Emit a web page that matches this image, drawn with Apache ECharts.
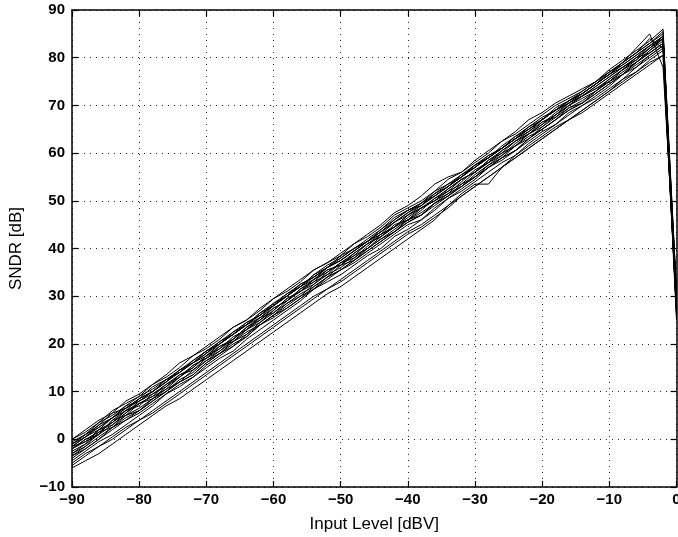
<!DOCTYPE html>
<html>
<head>
<meta charset="utf-8">
<script src="https://cdn.jsdelivr.net/npm/echarts@6/dist/echarts.min.js"></script>
<style>html,body{margin:0;padding:0;background:#fff}#c{width:678px;height:537px}</style>
</head>
<body>
<div id="c"></div>
<script>
const xs = [-90,-88,-86,-84,-82,-80,-78,-76,-74,-72,-70,-68,-66,-64,-62,-60,-58,-56,-54,-52,-50,-48,-46,-44,-42,-40,-38,-36,-34,-32,-30,-28,-26,-24,-22,-20,-18,-16,-14,-12,-10,-8,-6,-4,-2,0];
const s1 = [0,1.5,3.5,6,7.5,9,11.5,13,15,17.5,19,21,23.5,25,27,29.5,31,33,35.5,37,38.5,41,42.5,44.5,47,48.5,50,52,54.5,56,58,60,62.5,64,66,68,70,71.5,73,75,77,79,81,83,85.5,27];
const s2 = [-1.5,0.5,2,4.5,6.5,8.5,10,12,14.5,16,18,20,22,24.5,26,28,30,32.5,34,36,37.5,39.5,41.5,43,45.5,47.5,49,51,53,55,57,59.5,61,63,65,67,69,70.5,72.5,74.5,76.5,78,80,82.5,84.5,30];
const s3 = [-2.5,-1,2,3,5.5,7.5,9,10.5,13,15.5,17,18.5,21,23,24.5,27,29.5,31,32.5,35,37,38,40.5,43,44.5,46,48.5,50,51.5,54,56.5,58,59.5,62,64,65.5,68,70,71.5,73,75.5,77.5,79,81.5,84,26];
const s4 = [-2,0,1,4,6,7,9.5,11.5,13.5,15,17.5,19.5,21,23.5,25.5,27.5,29,31.5,33.5,35,37,39,41,43,44.5,47,48.5,50.5,52.5,54.5,56,58.5,60.5,62.5,64.5,66.5,68,70.5,72,74,76,78,80,82,84.5,29];
const s5 = [-3,-1,1,3,5,6.5,8.5,10.5,12,14.5,16.5,18.5,20.5,22,24.5,26.5,28.5,30,32.5,34.5,36,38,40,42,44,46,47.5,49.5,51.5,53,55.5,57.5,59.5,61.5,63,65.5,67.5,69.5,71,73,75,77,79,81,83,28];
const s6 = [-0.5,1,3.5,5,7,9,10.5,12.5,14.5,16.5,18.5,20.5,22.5,24,26.5,28.5,30.5,32,34.5,36.5,38,40,42,44,46,48,49.5,51.5,53.5,55.5,57.5,59,61.5,63.5,65.5,67.5,69,71,73,75,77,79,81,83,85,31];
const s7 = [-3.5,-1.5,0.5,2.5,4,6,8,10,12,13.5,16,18,20,21.5,24,26,28,30,31.5,34,35.5,37.5,39.5,41.5,43.5,45.5,47,49,51,53,55,57,59,60.5,63,65,67,69,70.5,72.5,74.5,76.5,78.5,80.5,82.5,25];
const s8 = [-1.5,-0.5,1,4,5,7.5,8.5,11,13.5,14.5,17,19.5,20.5,23,25.5,26.5,29,31.5,33,34.5,37,38.5,40,42.5,45,46,48,50.5,52,53.5,56,58.5,60,61.5,64,66.5,67.5,70,72,73.5,75,77.5,80,81,83,29];
const s9 = [-1,1,2.5,4.5,6.5,8,10,12,14,16,17.5,20,22,24,25.5,28,30,32,33.5,36,37.5,39.5,41.5,43.5,45.5,47,49,51,53,55,57,59,61,63,64.5,67,69,71,72.5,74.5,76.5,79,82,85,78,30];
const s10 = [-5.5,-3.5,-1.5,0.5,2.5,4,6,8,10,12,14,16,18,20,22,24,26,28,30,31.5,33.5,35.5,37.5,39.5,41.5,43.5,45,47,49,51,53,55,57,59,61,63,65,67,68.5,70.5,72.5,74.5,76.5,78.5,80.5,27];
const s11 = [-6,-4.5,-3,-1,1,3,5,7,8.5,10.5,12.5,14.5,16.5,18.5,20.5,22.5,24.5,26.5,28.5,30.5,32,34,36,38,40,42,44,46,49,51.5,53.5,53.5,57,59.5,61.5,63.5,65.5,67,69,71,73,75,77,79,80.5,27];
const s12 = [-4.5,-2.5,-0.5,1,3,5,7,9.5,11,13,15,17,18.5,21,23,25,27,29,31.5,33,34.5,36.5,38.5,40,42.5,44,46,48,50.5,52,54,56,58,59.5,62,64,66,68,70,71.5,73.5,75.5,77,79.5,81.5,28];
const s13 = [-5,-3,-1.5,0,2,4,5.5,7.5,9.5,11.5,13.5,15.5,17.5,19.5,21.5,23.5,25.5,27.5,29.5,31.5,33,35,37,39,41,43,44.5,46.5,48.5,51,53,55,57,59,61,63,65,67,69,71,73,75.5,78,80,82,29];
const s14 = [-2,-0.5,2,3.5,5.5,8,9.5,11,13,15.5,17,19,21.5,23,25,27.5,29,31,33.5,35.5,36.5,39,41,42.5,44.5,47,48.5,50,52.5,54.5,56,58,60.5,62.5,64,66,68.5,70.5,72,74,76,78,79.5,82,84,27];
const s15 = [-1,1,3,5.5,6.5,8.5,11,12.5,14,16.5,18.5,20,22.5,24.5,26,28,30.5,32.5,34,36,38.5,40,41.5,44,46.5,48,49.5,52,53.5,55,57.5,59.5,61,63,65.5,67,69,71,72.5,74.5,77,78.5,80.5,82.5,84.5,30];
const s16 = [-4,-2,0,2,4,5.5,7.5,9.5,11.5,13,15.5,17.5,19.5,21.5,24,25.5,27.5,29.5,31.5,33.5,35.5,37,39,41,43,45,46,48.5,50.5,52.5,54.5,57,58.5,60.5,62.5,64.5,66,68.5,70,72,74,76.5,78,80.5,82.5,28];
const s17 = [0,2,4,5.5,8,9.5,11.5,13.5,16,17.5,19.5,21.5,23.5,25,27.5,29.5,31.5,33.5,35.5,37,39,41,43,45,47.5,49,51,53.5,55,56,58.5,60.5,62.5,64.5,67,68.5,70.5,72,73.5,75,77.5,79.5,81.5,83.5,86,31];
const s18 = [-3,-1.5,1.5,2.5,5,6,8.5,10,12.5,14,16.5,18,20.5,22.5,24,26,28.5,30.5,32,34,36.5,37.5,40,42,43.5,46,47,49.5,51,53.5,55,57.5,59,61.5,63.5,65,67,69.5,70.5,73,75,76.5,79,81,83,26];
const s19 = [-3.5,-2,0,2.5,4.5,6,8,10,12,13.5,16,18,19.5,22,24,26,27.5,29.5,32,34,35.5,37.5,39.5,41.5,43.5,45.5,47,49.5,51,53,55,57,59,60.5,63,65,67,69,70.5,72.5,74.5,76.5,79,81.5,83.5,30];
const s20 = [-1.5,0.5,2.5,4.5,7,8,10,12.5,14,16,18.5,20,22,24,26.5,28,30,32,34.5,36,37.5,39.5,41.5,43.5,45.5,47.5,49.5,51,53,55.5,57,59,61,63,65,67,69,70.5,72.5,74.5,76.5,78.5,80.5,82.5,84,29];
const s21 = [-2,0,1.5,3.5,6,7.5,9,11.5,13,15,17.5,19,21,23.5,25,27,29.5,31,33,35.5,36.5,38.5,41,42.5,44.5,46.5,48.5,50,52,54.5,56,58,60,62.5,64,66,68,70,72,73.5,75.5,77.5,79.5,82,84,28];
const s22 = [-1,0.5,3,4.5,6,8.5,10,12,14.5,16,18,20.5,22,24,26,28.5,30,32,34,36,38,40,41.5,43.5,46,48,49,51.5,53,55,57.5,59,61,63.5,65,67,69.5,71,72.5,74.5,76.5,79,81,84,82,27];
const allSeries = [s1,s2,s3,s4,s5,s6,s7,s8,s9,s10,s11,s12,s13,s14,s15,s16,s17,s18,s19,s20,s21,s22];
const xTicks = [-90,-80,-70,-60,-50,-40,-30,-20,-10,0];
const yTicks = [-10,0,10,20,30,40,50,60,70,80,90];

const chart = echarts.init(document.getElementById('c'));
const fmt = v => String(v).replace('-', '\u2212');
const labelStyle = {color:'#000', fontFamily:'Liberation Sans, Arial, sans-serif', fontWeight:'bold', fontSize:15};
const axisLine = {show:true, onZero:false, lineStyle:{color:'#000', width:1.5}};
const tick = {show:true, inside:true, length:6, lineStyle:{color:'#000', width:1.2}};
const grid = {show:true, lineStyle:{color:'#222', type:[1,5], width:1}};
chart.setOption({
  animation:false,
  backgroundColor:'#fff',
  grid:{left:72, right:1.5, top:10, bottom:50, containLabel:false, outerBoundsMode:'none'},
  xAxis:[
    {type:'value', min:xTicks[0], max:xTicks[xTicks.length-1], interval:10, position:'bottom',
     axisLine:axisLine, axisTick:tick, splitLine:grid,
     axisLabel:Object.assign({margin:5, formatter:fmt}, labelStyle),
     name:'Input Level [dBV]', nameLocation:'middle', nameGap:29,
     nameTextStyle:{color:'#000', fontFamily:'Liberation Sans, Arial, sans-serif', fontSize:17}},
    {type:'value', min:xTicks[0], max:xTicks[xTicks.length-1], interval:10, position:'top',
     axisLine:axisLine, axisTick:tick, splitLine:{show:false}, axisLabel:{show:false}}
  ],
  yAxis:[
    {type:'value', min:yTicks[0], max:yTicks[yTicks.length-1], interval:10, position:'left',
     axisLine:axisLine, axisTick:tick, splitLine:grid,
     axisLabel:Object.assign({margin:7, formatter:fmt}, labelStyle),
     name:'SNDR [dB]', nameLocation:'middle', nameGap:47,
     nameTextStyle:{color:'#000', fontFamily:'Liberation Sans, Arial, sans-serif', fontSize:17}},
    {type:'value', min:yTicks[0], max:yTicks[yTicks.length-1], interval:10, position:'right',
     axisLine:axisLine, axisTick:tick, splitLine:{show:false}, axisLabel:{show:false}}
  ],
  series: allSeries.map(s => ({
    type:'line', showSymbol:false, symbol:'none', silent:true,
    lineStyle:{color:'#000', width:1},
    data: xs.map((x,i) => [x, s[i]])
  }))
});
</script>
</body>
</html>
